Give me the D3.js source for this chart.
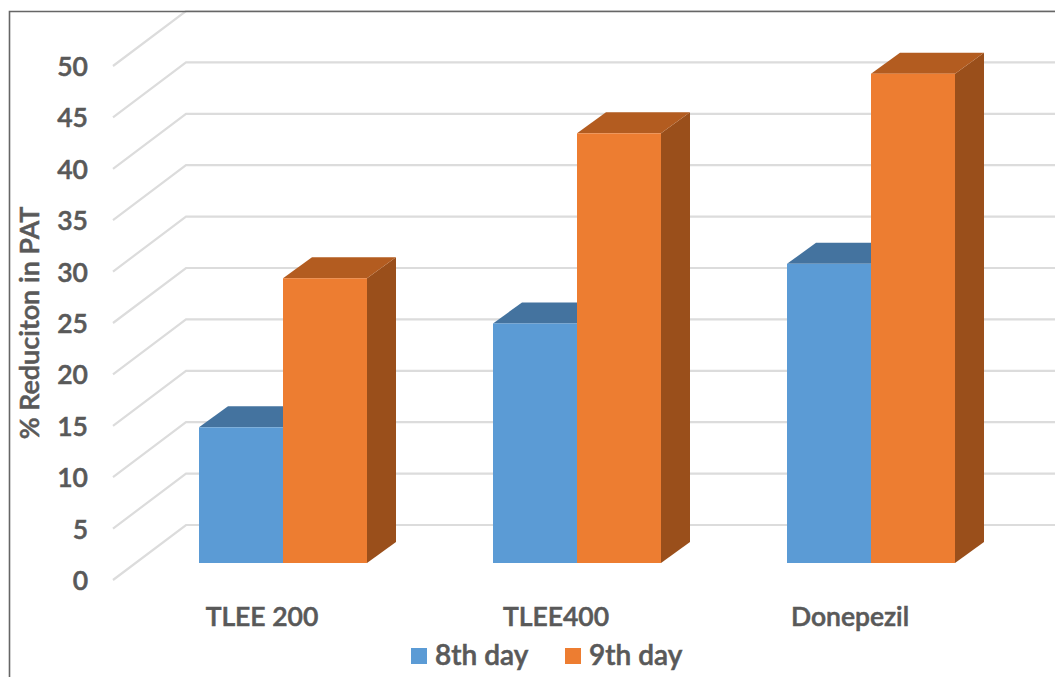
<!DOCTYPE html>
<html>
<head>
<meta charset="utf-8">
<script src="https://cdn.jsdelivr.net/npm/d3@7/dist/d3.min.js"></script>
<style>
  html, body { margin: 0; background: #fff; overflow: hidden; }
  text { font-family: Lato, "Open Sans", sans-serif; font-weight: 600; fill: #595959; stroke: #595959; stroke-width: 0.55px; }
</style>
</head>
<body>
<svg id="chart" width="1055" height="677"></svg>
<script>
// Chart content
const categories = ["TLEE 200", "TLEE400", "Donepezil"];
const seriesNames = ["8th day", "9th day"];
const day8 = [13.2, 23.3, 29.1];
const day9 = [27.7, 41.8, 47.6];
const yTicks = [0, 5, 10, 15, 20, 25, 30, 35, 40, 45, 50];
const yTitle = "% Reduciton in PAT";

const front = ["#5B9BD5", "#ED7D31"];
const topFace = ["#44739F", "#B35C20"];
const sideFace = ["#41719C", "#9A4F1B"];

const svg = d3.select("#chart");

// Scales: y is read on the front edge of the floor, x spans the category slots
const y = d3.scaleLinear().domain([0, 50]).range([580, 66]);
const x = d3.scaleBand().domain(categories).range([136, 1018])
  .paddingInner(126 / 294).paddingOuter(63 / 294);
const xSeries = d3.scaleBand().domain(seriesNames).range([0, x.bandwidth()]);

// Oblique projection of the chart box
const wallDx = 73, wallDy = -55;
const barPlaneDy = -17;
const barDx = 29, barDy = -21;
const floorLeft = 113, wallRight = 1056;

// Gridlines run along the side wall, then across the back wall
svg.append("g").selectAll("path").data(yTicks).join("path")
  .attr("fill", "none")
  .attr("stroke", "#dcdcdc")
  .attr("stroke-width", 2.2)
  .attr("d", v => {
    const p = d3.path();
    p.moveTo(floorLeft, y(v));
    p.lineTo(floorLeft + wallDx, y(v) + wallDy);
    p.lineTo(wallRight, y(v) + wallDy);
    return p.toString();
  });

// Outer frame, open on the right and at the bottom
svg.append("path")
  .attr("fill", "none")
  .attr("stroke", "#666")
  .attr("stroke-width", 1.6)
  .attr("d", "M9.5,677V11.5H1055");

// Bars with their top and side faces
const rows = categories.flatMap((c, i) => [
  { c, s: 0, v: day8[i] },
  { c, s: 1, v: day9[i] }
]);
const bars = svg.append("g").selectAll("g").data(rows).join("g");

const faceGeom = d => {
  const x0 = x(d.c) + xSeries(seriesNames[d.s]);
  const x1 = x0 + xSeries.bandwidth();
  const yTop = y(d.v) + barPlaneDy;
  const yBase = y(0) + barPlaneDy;
  return { x0, x1, yTop, yBase };
};

bars.append("path")
  .attr("fill", d => sideFace[d.s])
  .attr("d", d => {
    const g = faceGeom(d);
    return `M${g.x1},${g.yTop}L${g.x1 + barDx},${g.yTop + barDy}L${g.x1 + barDx},${g.yBase + barDy}L${g.x1},${g.yBase}Z`;
  });
bars.append("path")
  .attr("fill", d => topFace[d.s])
  .attr("d", d => {
    const g = faceGeom(d);
    return `M${g.x0},${g.yTop}L${g.x0 + barDx},${g.yTop + barDy}L${g.x1 + barDx},${g.yTop + barDy}L${g.x1},${g.yTop}Z`;
  });
bars.append("rect")
  .attr("fill", d => front[d.s])
  .attr("x", d => faceGeom(d).x0)
  .attr("y", d => faceGeom(d).yTop)
  .attr("width", xSeries.bandwidth())
  .attr("height", d => faceGeom(d).yBase - faceGeom(d).yTop);

// Value axis labels
const yAxis = svg.append("g")
  .attr("transform", "translate(88,1)")
  .call(d3.axisLeft(y).tickValues(yTicks).tickSize(0).tickPadding(0));
yAxis.select(".domain").remove();
yAxis.selectAll("text").style("font-size", "26.5px").attr("fill", null);

// Category labels sit left of the bar pair's centre
const xAxis = svg.append("g")
  .attr("transform", "translate(-21,607)")
  .call(d3.axisBottom(x).tickSize(0).tickPadding(0));
xAxis.select(".domain").remove();
xAxis.selectAll("text").style("font-size", "26.5px").attr("fill", null);

// Value axis title
svg.append("text")
  .attr("transform", "translate(39,323) rotate(-90)")
  .attr("text-anchor", "middle")
  .style("font-size", "27px")
  .text(yTitle);

// Legend
const legendX = [411, 565];
const legend = svg.append("g").selectAll("g").data(seriesNames).join("g")
  .attr("transform", (d, i) => `translate(${legendX[i]},648)`);
legend.append("rect")
  .attr("width", 16).attr("height", 16)
  .attr("fill", (d, i) => front[i]);
legend.append("text")
  .attr("x", 24).attr("y", 17)
  .style("font-size", "28px")
  .text(d => d);
</script>
</body>
</html>
